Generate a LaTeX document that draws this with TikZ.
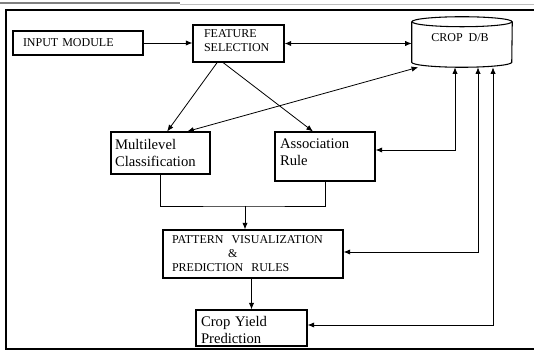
\documentclass[tikz,border=0pt]{standalone}
\usepackage{fontspec}
\setmainfont{Liberation Serif}
\usetikzlibrary{arrows.meta}

\begin{document}
\begin{tikzpicture}[x=0.75pt,y=0.75pt,yscale=-1,xscale=1,
  box/.style={draw, line width=0.8pt, align=left, inner ysep=0pt},
  caps/.style={font=\fontsize{9}{10.5}\selectfont},
  lower/.style={font=\fontsize{11}{12.75}\selectfont},
  link/.style={line width=0.6pt, -{Latex[length=5pt,width=4pt]}},
  twoway/.style={line width=0.6pt, {Latex[length=5pt,width=4pt]}-{Latex[length=5pt,width=4pt]}}]
\useasboundingbox (0,0) rectangle (534,352);

%Frame (the window strip at the top and the thick border)
\draw [color={rgb, 255:red, 128; green, 128; blue, 128 }, line width=1.5pt] (0,3) -- (180,3) ;
\draw [color={rgb, 255:red, 190; green, 190; blue, 190 }, line width=0.5pt] (180,4) -- (534,4) ;
\draw [line width=1.5pt] (560,10) -- (6,10) -- (6,349) -- (560,349) ;

%Shape: Rectangle [id:input]
\node [box, caps, text width=82.5pt, inner xsep=7.5pt, minimum height=18pt] (input) at (78,43) {INPUT MODULE};
%Shape: Rectangle [id:feature]
\node [box, caps, text width=51.75pt, inner xsep=8.25pt, minimum height=27.75pt, text depth=15pt] (feature) at (238.5,43.5) {FEATURE\\SELECTION};
%Shape: Can [id:crop]  (yshift is flipped by yscale=-1)
\node [inner sep=0pt, minimum width=75pt, minimum height=37.5pt] (crop) at (462,42) {};
\draw [line width=0.8pt] ([yshift=3.75pt]crop.north) ellipse [x radius=50, y radius=5] ;
\draw [line width=0.8pt] ([yshift=3.75pt]crop.north west) -- ([yshift=-3.75pt]crop.south west) arc [start angle=180, end angle=0, x radius=50, y radius=5] -- ([yshift=3.75pt]crop.north east) ;
% Text Node
\node [caps] (croptext) at (460,38) {CROP\ \ D/B};
%Shape: Rectangle [id:multi]
\node [box, lower, text width=68.25pt, inner xsep=3pt, minimum height=31.5pt] (multi) at (160.5,153) {Multilevel\\Classification};
%Shape: Rectangle [id:assoc]
\node [box, lower, text width=67.5pt, inner xsep=3.75pt, minimum height=36.75pt, text depth=19pt] (assoc) at (325,156.5) {Association\\Rule};
%Shape: Rectangle [id:pattern]
\node [box, caps, text width=121.5pt, inner xsep=6.75pt, minimum height=36pt] (pattern) at (253,254) {PATTERN\ \ VISUALIZATION\\\hspace*{42pt}\&\\PREDICTION\ \ RULES};
%Shape: Rectangle [id:yield]
\node [box, lower, text width=75.75pt, inner xsep=3.75pt, minimum height=27pt, text depth=10pt] (yield) at (251.5,328) {Crop Yield\\Prediction};

%Bends of the connectors
\coordinate (join) at (245,206) ;
\coordinate (tapA) at (455,150) ;
\coordinate (tapB) at (478,252) ;
\coordinate (tapC) at (493,325) ;

%Straight Lines
\draw [link] (input.east) -- (input.east -| feature.west) ;
\draw [twoway] (feature.east) -- (feature.east -| crop.west) ;
\draw [link] ([xshift=-16pt]feature.south) -- ([xshift=5pt]multi.north) ;
\draw [link] ([xshift=-11.6pt]feature.south) -- ([xshift=-9pt]assoc.north) ;
\draw [twoway] (crop.210) -- ([xshift=20pt]multi.north) ;
%Elbow lines
\draw [line width=0.6pt] (multi.south) |- (join) -| (assoc.south) ;
\draw [link] (join) -- (join |- pattern.north) ;
\draw [link] (pattern.south -| yield.north) -- (yield.north) ;
\draw [twoway] (crop.south -| tapA) |- (assoc.east |- tapA) ;
\draw [twoway] (crop.south -| tapB) |- (pattern.east |- tapB) ;
\draw [twoway] (crop.south -| tapC) |- (yield.east |- tapC) ;

\end{tikzpicture}
\end{document}
